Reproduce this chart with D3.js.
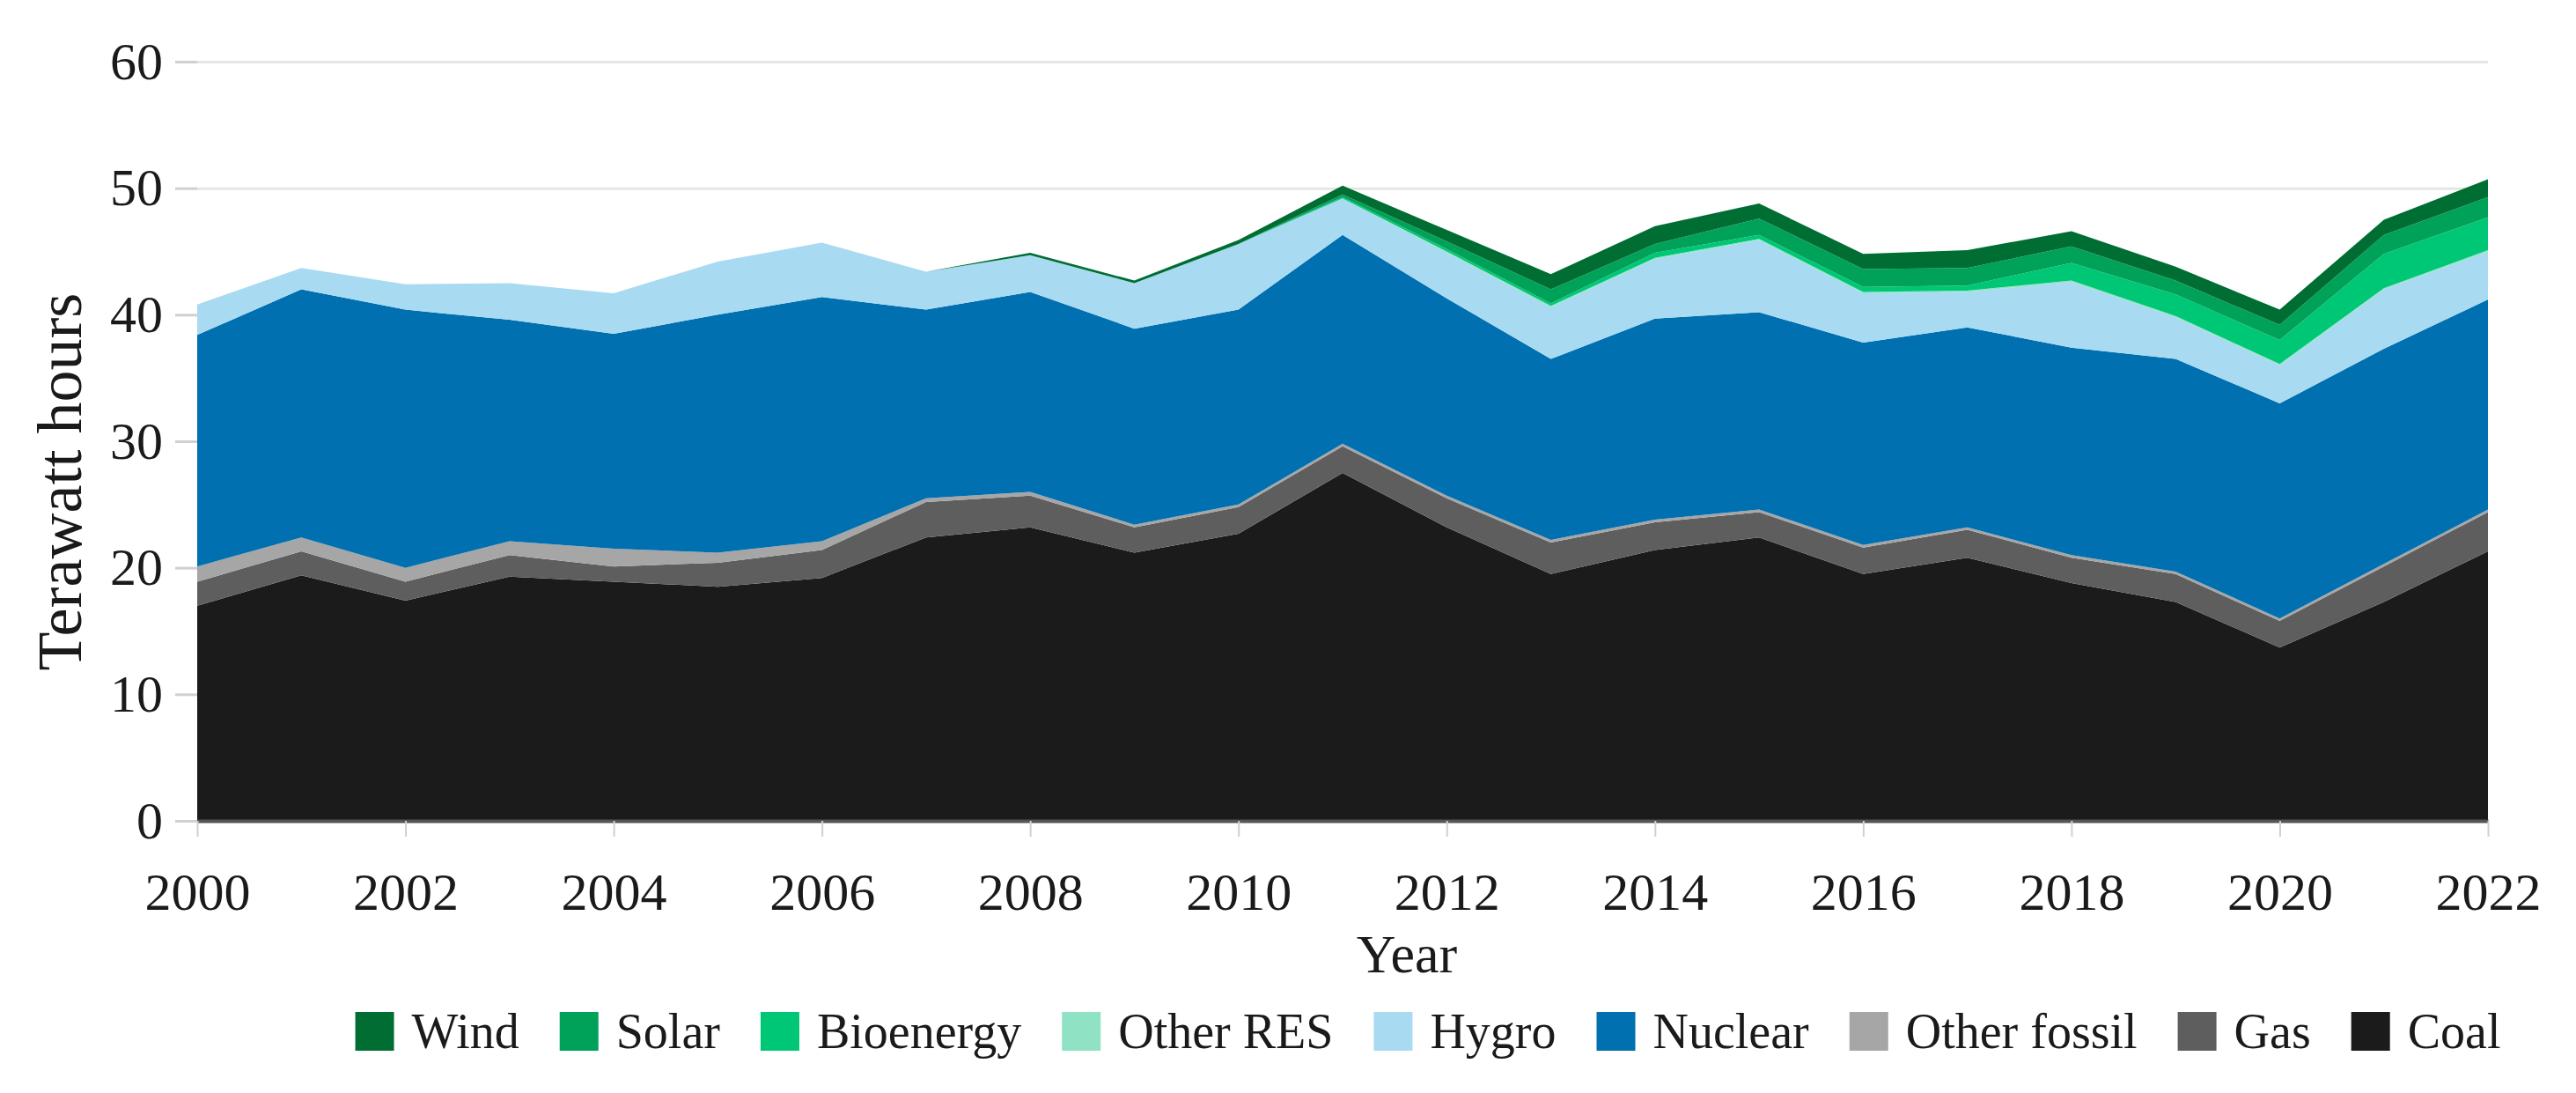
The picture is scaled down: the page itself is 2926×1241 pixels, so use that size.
<!DOCTYPE html>
<html>
<head>
<meta charset="utf-8">
<script src="https://cdn.jsdelivr.net/npm/d3@7"></script>
<style>
  body { margin: 0; background: #ffffff; }
  text { font-family: "Liberation Serif", "Times New Roman", serif; fill: #1a1a1a; }
</style>
</head>
<body>
<div id="chart-area"></div>
<script>
// data (TWh)
var years = [2000, 2001, 2002, 2003, 2004, 2005, 2006, 2007, 2008, 2009, 2010, 2011,
             2012, 2013, 2014, 2015, 2016, 2017, 2018, 2019, 2020, 2021, 2022];

var coal        = [17.0, 19.4, 17.4, 19.3, 18.9, 18.5, 19.2, 22.4, 23.2, 21.2, 22.7, 27.5,
                   23.2, 19.5, 21.4, 22.4, 19.5, 20.8, 18.8, 17.3, 13.7, 17.3, 21.3];
var gas         = [1.9, 1.9, 1.5, 1.7, 1.2, 1.9, 2.2, 2.8, 2.5, 2.0, 2.1, 2.1,
                   2.3, 2.5, 2.2, 2.0, 2.1, 2.2, 2.0, 2.2, 2.1, 2.8, 3.1];
var otherFossil = [1.2, 1.1, 1.1, 1.1, 1.4, 0.8, 0.7, 0.3, 0.3, 0.2, 0.2, 0.2,
                   0.2, 0.2, 0.2, 0.2, 0.2, 0.2, 0.2, 0.2, 0.2, 0.2, 0.2];
var nuclear     = [18.3, 19.6, 20.4, 17.5, 17.0, 18.8, 19.3, 14.9, 15.8, 15.5, 15.4, 16.5,
                   15.6, 14.3, 15.9, 15.6, 16.0, 15.8, 16.4, 16.8, 17.0, 17.0, 16.6];
var hygro       = [2.4, 1.7, 2.0, 2.9, 3.2, 4.2, 4.3, 3.0, 2.9, 3.6, 5.2, 2.9,
                   3.6, 4.1, 4.7, 5.7, 3.9, 2.8, 5.2, 3.3, 3.0, 4.7, 3.8];
var otherRes    = [0, 0, 0, 0, 0, 0, 0, 0, 0, 0, 0, 0,
                   0.1, 0.1, 0.1, 0.1, 0.1, 0.1, 0.1, 0.1, 0.1, 0.1, 0.1];
var bioenergy   = [0, 0, 0, 0, 0, 0, 0, 0, 0, 0, 0, 0.1,
                   0.2, 0.2, 0.4, 0.3, 0.4, 0.4, 1.4, 1.7, 1.9, 2.7, 2.6];
var solar       = [0, 0, 0, 0, 0, 0, 0, 0, 0, 0, 0, 0.2,
                   0.6, 1.1, 0.7, 1.3, 1.4, 1.4, 1.3, 1.1, 1.2, 1.5, 1.6];
var wind        = [0, 0, 0, 0, 0, 0, 0, 0, 0.2, 0.2, 0.3, 0.7,
                   0.9, 1.2, 1.4, 1.2, 1.2, 1.4, 1.2, 1.1, 1.2, 1.2, 1.4];

var xTicks = [2000, 2002, 2004, 2006, 2008, 2010, 2012, 2014, 2016, 2018, 2020, 2022];
var yTicks = [0, 10, 20, 30, 40, 50, 60];

// stacking order, bottom first
var keys   = ["Coal", "Gas", "Other fossil", "Nuclear", "Hygro", "Other RES", "Bioenergy", "Solar", "Wind"];
var series = [coal, gas, otherFossil, nuclear, hygro, otherRes, bioenergy, solar, wind];
var colors = ["#1b1b1b", "#5e5e5e", "#a6a6a6", "#0070b0", "#a8daf2", "#8fe3c4", "#00c776", "#00a259", "#006e33"];
// legend runs the other way
var legendKeys = keys.slice().reverse();

var margin = { left: 224, right: 100, top: 70, bottom: 309 };
var width = 2926 - margin.left - margin.right;
var height = 1241 - margin.top - margin.bottom;

var svg = d3.select("#chart-area")
  .append("svg")
    .attr("width", 2926)
    .attr("height", 1241);

svg.append("rect").attr("width", 2926).attr("height", 1241).attr("fill", "#ffffff");

var g = svg.append("g")
  .attr("transform", "translate(" + margin.left + ", " + margin.top + ")");

var table = years.map(function(yr, i){
  var row = { year: yr };
  keys.forEach(function(k, j){ row[k] = series[j][i]; });
  return row;
});

var x = d3.scaleLinear().domain([2000, 2022]).range([0, width]);
var y = d3.scaleLinear().domain([0, 60]).range([height, 0]);
var color = d3.scaleOrdinal().domain(keys).range(colors);

// gridlines
var grid = g.append("g")
  .attr("class", "grid")
  .call(d3.axisLeft(y).tickValues(yTicks.slice(1)).tickSize(-width).tickFormat(""));
grid.select(".domain").remove();
grid.selectAll("line").attr("stroke", "#e6e6e6").attr("stroke-width", 3);

// stacked areas
var stack = d3.stack().keys(keys);
var layers = stack(table);

var area = d3.area()
  .x(function(d){ return x(d.data.year); })
  .y0(function(d){ return y(d[0]); })
  .y1(function(d){ return y(d[1]); });

g.selectAll(".layer")
  .data(layers)
  .enter().append("path")
    .attr("class", "layer")
    .attr("fill", function(d){ return color(d.key); })
    .attr("d", area);

// y axis
var yAxisGroup = g.append("g")
  .attr("class", "y-axis")
  .call(d3.axisLeft(y).tickValues(yTicks).tickSize(25).tickPadding(14));
yAxisGroup.select(".domain").remove();
yAxisGroup.selectAll("line").attr("stroke", "#d0d0d0").attr("stroke-width", 3);
yAxisGroup.selectAll("text").attr("font-size", "60px").attr("fill", "#1a1a1a");

// x axis
var xAxisGroup = g.append("g")
  .attr("class", "x-axis")
  .attr("transform", "translate(0, " + height + ")")
  .call(d3.axisBottom(x).tickValues(xTicks).tickFormat(d3.format("d"))
        .tickSize(18).tickSizeOuter(0).tickPadding(40));
xAxisGroup.select(".domain").attr("stroke", "#555555").attr("stroke-width", 4);
xAxisGroup.selectAll("line").attr("stroke", "#d0d0d0").attr("stroke-width", 2);
xAxisGroup.selectAll("text").attr("font-size", "60px").attr("fill", "#1a1a1a");

// axis labels
svg.append("text")
  .attr("x", 1598)
  .attr("y", 1104)
  .attr("font-size", "62px")
  .attr("text-anchor", "middle")
  .text("Year");

svg.append("text")
  .attr("transform", "rotate(-90)")
  .attr("x", -547)
  .attr("y", 92)
  .attr("font-size", "72px")
  .attr("text-anchor", "middle")
  .text("Terawatt hours");

// legend
var legend = svg.append("g").attr("class", "legend");
var items = legend.selectAll(".item")
  .data(legendKeys)
  .enter().append("g")
    .attr("class", "item");

items.append("rect")
  .attr("width", 44)
  .attr("height", 44)
  .attr("y", 1149)
  .attr("fill", function(d){ return color(d); });

items.append("text")
  .attr("x", 64)
  .attr("y", 1190)
  .attr("font-size", "56px")
  .text(function(d){ return d; });

var pos = 0;
var offsets = [];
items.each(function(){
  var w = d3.select(this).select("text").node().getComputedTextLength();
  offsets.push(pos);
  pos += 64 + w + 46;
});
var total = pos - 46;
var start = 1622 - total / 2;
items.attr("transform", function(d, i){ return "translate(" + (start + offsets[i]) + ",0)"; });
</script>
</body>
</html>
